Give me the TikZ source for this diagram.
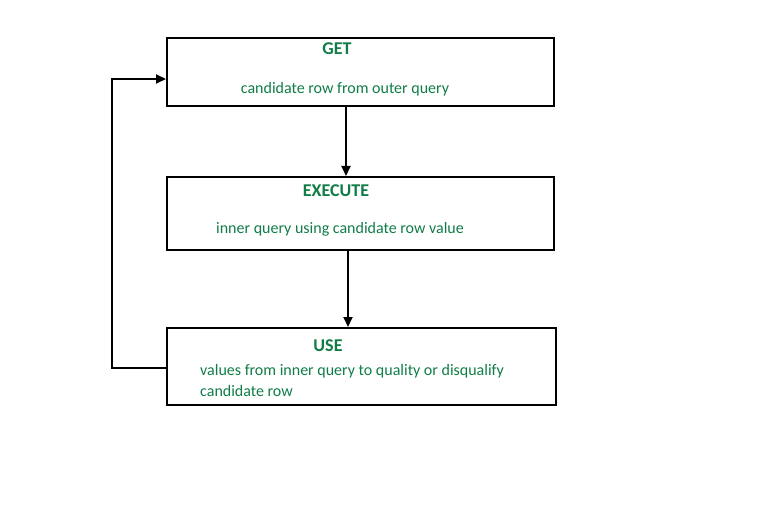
\documentclass[tikz,border=0pt]{standalone}
\usepackage{fontspec}
\setmainfont{Carlito}
\usetikzlibrary{arrows.meta}
\definecolor{ggreen}{RGB}{16,125,70}
\tikzset{
  box/.style={draw=black, line width=2pt, anchor=north west, inner sep=0pt},
  ttl/.style={text=ggreen, font=\fontsize{18}{21}\selectfont\bfseries, inner sep=0pt},
  body/.style={text=ggreen, font=\fontsize{16}{20}\selectfont, inner sep=0pt},
  arr/.style={line width=2pt, -{Triangle[length=10pt,width=9pt]}}
}
\begin{document}
\begin{tikzpicture}[x=1pt,y=-1pt]
\useasboundingbox (0,0) rectangle (762,505);
\node[box, minimum width=387pt, minimum height=68pt] (b1) at (166,37) {};
\node[box, minimum width=387pt, minimum height=73pt] (b2) at (166,176) {};
\node[box, minimum width=389pt, minimum height=77pt] (b3) at (166,327) {};
\node[ttl] (t1) at (337,49) {GET};
\node[body] (d1) at (345,89) {candidate row from outer query};
\node[ttl] (t2) at (336,191) {EXECUTE};
\node[body] (d2) at (340,229) {inner query using candidate row value};
\node[ttl] (t3) at (328,346) {USE};
\node[body, anchor=west] (d3) at (200,371) {values from inner query to quality or disqualify};
\node[body, anchor=west] (d4) at (200,391) {candidate row};
\draw[arr] (b1.south -| 346,0) -- (b2.north -| 346,0);
\draw[arr] (b2.south -| 348,0) -- (b3.north -| 348,0);
\coordinate (c1) at (112,368);
\coordinate (c2) at (112,79);
\draw[arr, line join=miter] (b3.west |- 0,368) -- (c1) -- (c2) -- (b1.west |- 0,79);
\end{tikzpicture}
\end{document}
